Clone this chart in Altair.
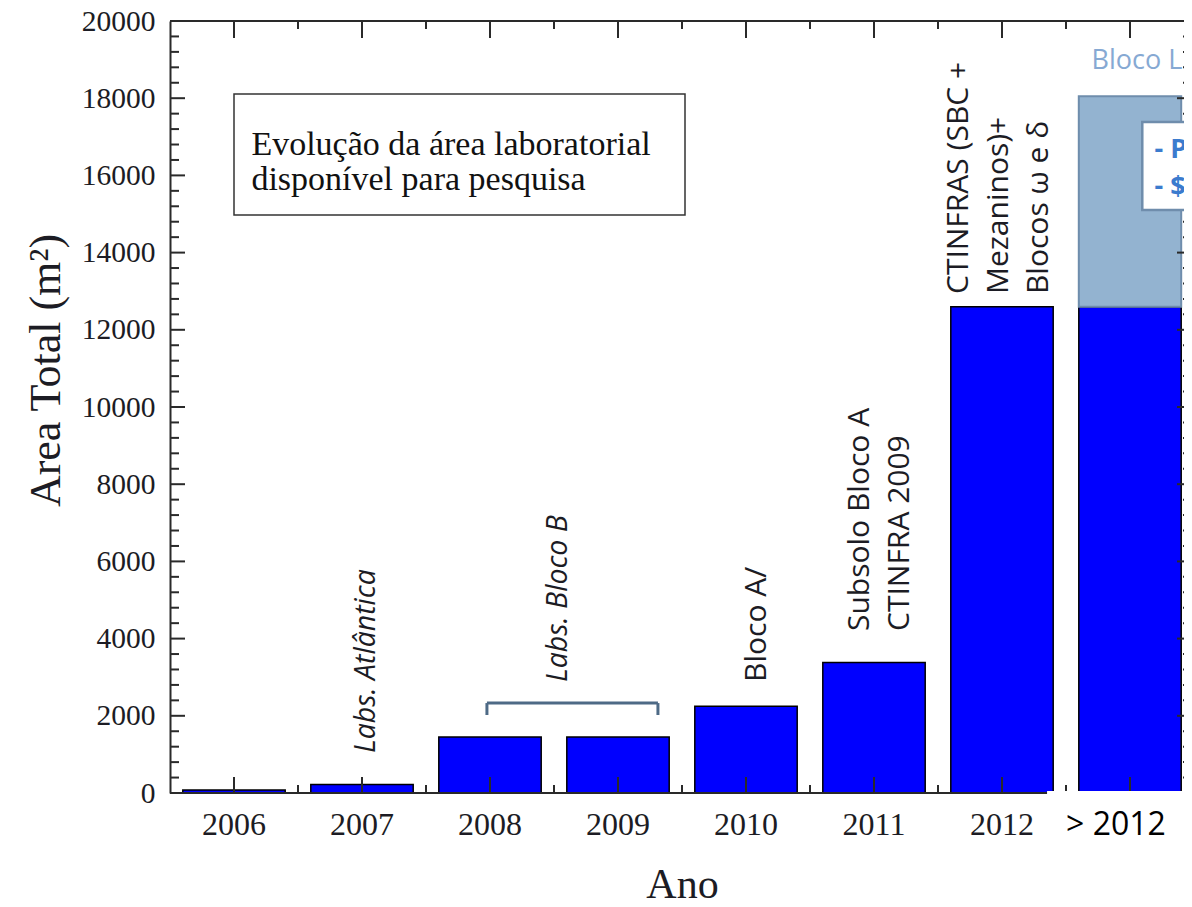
import altair as alt
import pandas as pd

# ---------------- data ----------------
anos = ["2006", "2007", "2008", "2009", "2010", "2011", "2012", "> 2012"]
area_total = [80, 220, 1450, 1450, 2250, 3380, 12600, 12600]

futuro_ano = ["> 2012"]
futuro_base = [12600]
futuro_topo = [18050]

y_major = list(range(0, 20001, 2000))
y_minor = [v for v in range(0, 20001, 400) if v % 2000]

titulo_linhas = ["Evolução da área laboratorial", "disponível para pesquisa"]
legenda_linhas = ["- P", "- $"]

# rotated annotations: category, y where the text starts, lines, italic, screen x-shift
anot_ano = ["2007", "2009", "2010", "2011", "2012"]
anot_y = [1036, 2876, 2876, 4197, 12927]
anot_txt = [["Labs. Atlântica"], ["Labs. Bloco B"], ["Bloco A/"],
            ["Subsolo Bloco A", "CTINFRA 2009"],
            ["CTINFRAS (SBC +", "Mezaninos)+", "Blocos ω e δ"]]
anot_italic = [True, True, False, False, False]
anot_shift = [4, -60, 11, -14, -43]

# ---------------- layout ----------------
W, H = 1014, 772
BLUE = "#0000FF"
INK = "#1c1c24"

x_scale = alt.Scale(domain=anos, range=[0, 1024], paddingInner=0.2, paddingOuter=0.1)
y_scale = alt.Scale(domain=[0, 20000], nice=False, zero=True)

cond = "datum.value === '> 2012'"
x_axis = alt.Axis(
    title="Ano", titleFont="Liberation Serif", titleFontSize=42, titleFontWeight="normal",
    titleColor=INK, titleBaseline="alphabetic", titleY=104,
    labelFont={"condition": {"test": cond, "value": "Open Sans"}, "value": "Liberation Serif"},
    labelFontSize={"condition": {"test": cond, "value": 32}, "value": 32},
    labelColor={"condition": {"test": cond, "value": "#000000"}, "value": INK},
    labelOffset={"condition": {"test": cond, "value": -14}, "value": 0},
    labelAngle=0, labelPadding=16, labelBaseline="top", ticks=False, tickSize=0,
    domain=False, grid=False, zindex=1,
)
y_axis = alt.Axis(
    values=y_major, format="d", title="Area Total (m²)", titleFont="Liberation Serif",
    titleFontSize=44, titleFontWeight="normal", titleColor=INK, titleAngle=270,
    titleX=-124, titleY=349, titleBaseline="middle", titleAlign="center",
    labelFont="Liberation Serif", labelFontSize=29.5, labelColor=INK, labelPadding=15,
    ticks=False, tickSize=0, domain=True, domainColor="#2a2a2a", domainWidth=2,
    grid=False, labelOverlap=False,
)


def X(field, bp=0.5):
    return alt.X(field, scale=x_scale, bandPosition=bp)


def Y(field):
    return alt.Y(field, type="quantitative", scale=y_scale)


bars_df = pd.DataFrame({"ano": anos, "area": area_total})
fut_df = pd.DataFrame({"ano": futuro_ano, "base": futuro_base, "topo": futuro_topo})

bars = alt.Chart(bars_df).mark_bar(color=BLUE, stroke="black", strokeWidth=1.5).encode(
    x=alt.X("ano:N", scale=x_scale, axis=x_axis),
    y=alt.Y("area:Q", scale=y_scale, axis=y_axis),
)
fut = alt.Chart(fut_df).mark_bar(color="#93B3D0", stroke="#6F8DAC", strokeWidth=2).encode(
    x=alt.X("ano:N", scale=x_scale), y=Y("base"), y2="topo"
)

# frame (top and bottom; left is the y-axis domain)
frame_df = pd.DataFrame({"v": [0, 20000]})
frame = alt.Chart(frame_df).mark_rule(color="#2a2a2a", strokeWidth=2).encode(y=Y("v"))

# inward ticks
tick_style = dict(color="#2a2a2a", strokeWidth=2)
ymaj_df = pd.DataFrame({"v": y_major})
ymin_df = pd.DataFrame({"v": y_minor})
left_maj = alt.Chart(ymaj_df).mark_rule(**tick_style).encode(y=Y("v"), x=alt.value(1), x2=alt.value(15))
left_min = alt.Chart(ymin_df).mark_rule(**tick_style).encode(y=Y("v"), x=alt.value(1), x2=alt.value(9))
right_maj = alt.Chart(ymaj_df).mark_rule(**tick_style).encode(y=Y("v"), x=alt.value(1024), x2=alt.value(1007))
right_min = alt.Chart(ymin_df).mark_rule(**tick_style).encode(y=Y("v"), x=alt.value(1024), x2=alt.value(1013))

# bottom / top ticks: from the frame value to a short distance inside (in data units)
bot_c = pd.DataFrame({"ano": anos, "v": 0, "v2": 415})
bot_b = pd.DataFrame({"ano": anos[:-1], "v": 0, "v2": 207})
top_c = pd.DataFrame({"ano": anos, "v": 20000, "v2": 19560})
top_b = pd.DataFrame({"ano": anos[:-1], "v": 20000, "v2": 19793})


def hv_ticks(df, bp, xoff):
    return alt.Chart(df).mark_rule(xOffset=xoff, **tick_style).encode(
        x=X("ano:N", bp), y=Y("v"), y2="v2")


bot_maj = hv_ticks(bot_c, 0.5, 0)
bot_min = hv_ticks(bot_b, 1, 12.8)
top_maj = hv_ticks(top_c, 0.5, 0)
top_min = hv_ticks(top_b, 1, 12.8)

# bracket over 2008-2009
br_col = "#4E6A86"
br_h_df = pd.DataFrame({"a": ["2008"], "b": ["2009"], "y": [2330]})
br_h = alt.Chart(br_h_df).mark_rule(color=br_col, strokeWidth=3).encode(
    x=X("a:N", 0.47), x2=alt.X2("b", bandPosition=0.89), y=Y("y"))
br_v_df = pd.DataFrame({"a": ["2008"], "b": ["2009"], "y": [2330], "y2": [2020]})
br_l = alt.Chart(br_v_df).mark_rule(color=br_col, strokeWidth=3).encode(x=X("a:N", 0.47), y=Y("y"), y2="y2")
br_r = alt.Chart(br_v_df).mark_rule(color=br_col, strokeWidth=3).encode(x=X("b:N", 0.89), y=Y("y"), y2="y2")

# rotated annotations
anots = []
for a, yv, t, it, sh in zip(anot_ano, anot_y, anot_txt, anot_italic, anot_shift):
    df = pd.DataFrame({"ano": [a], "y": [yv], "t": [t]})
    anots.append(
        alt.Chart(df).mark_text(
            angle=270, align="left", baseline="middle", font="Open Sans",
            fontSize=28.5 if it else 30, fontStyle="italic" if it else "normal",
            dy=sh, lineHeight=40, color=INK,
        ).encode(x=X("ano:N", 0.5), y=Y("y"), text="t:N")
    )

# title box
tbox_df = pd.DataFrame({"a": ["2006"], "b": ["2010"], "y": [18109], "y2": [14974]})
tbox = alt.Chart(tbox_df).mark_rect(fill="white", stroke="#333333", strokeWidth=1.5, x2Offset=-9.8).encode(
    x=X("a:N", 0.5), x2=alt.X2("b", bandPosition=0), y=Y("y"), y2="y2")
ttext_df = pd.DataFrame({"a": ["2006"], "y": [16528], "t": [titulo_linhas]})
ttext = alt.Chart(ttext_df).mark_text(
    align="left", baseline="alphabetic", font="Liberation Serif", fontSize=34, lineHeight=35, color="#111111"
).encode(x=X("a:N", 0.67), y=Y("y"), text="t:N")

# Bloco L
bl_df = pd.DataFrame({"a": ["> 2012"], "y": [18964], "t": ["Bloco L"]})
bl = alt.Chart(bl_df).mark_text(
    align="center", baseline="middle", font="Open Sans", fontSize=27, color="#86A9D3", dx=7
).encode(x=X("a:N", 0.5), y=Y("y"), text="t:N")

# legend-like box on > 2012
lbox_df = pd.DataFrame({"a": ["> 2012"], "y": [17383], "y2": [15104]})
lbox = alt.Chart(lbox_df).mark_rect(fill="white", stroke="#6F8DAC", strokeWidth=2.5, x2Offset=40).encode(
    x=X("a:N", 0.62), x2=alt.X2("a", bandPosition=1), y=Y("y"), y2="y2")
ltext_df = pd.DataFrame({"a": ["> 2012"], "y": [16450], "t": [legenda_linhas]})
ltext = alt.Chart(ltext_df).mark_text(
    align="left", baseline="alphabetic", font="Open Sans", fontSize=27, fontWeight="bold",
    lineHeight=37, color="#3B7BCE"
).encode(x=X("a:N", 0.74), y=Y("y"), text="t:N")

# white patch under the "> 2012" column (as in the reference)
mask_df = pd.DataFrame({"a": ["2012"], "b": ["> 2012"], "y": [52], "y2": [-3000]})
mask = alt.Chart(mask_df).mark_rect(fill="white", strokeWidth=0, x2Offset=60).encode(
    x=X("a:N", 0.94), x2=alt.X2("b", bandPosition=1), y=Y("y"), y2="y2")

chart = alt.layer(
    bars, fut, frame, br_h, br_l, br_r, *anots, tbox, ttext, bl,
    left_maj, left_min, right_maj, right_min, bot_maj, bot_min, top_maj, top_min,
    lbox, ltext, mask,
).properties(
    width=W, height=H,
    autosize=alt.AutoSizeParams(type="none"),
    padding={"left": 162, "top": 13, "right": 0, "bottom": 106},
).configure_view(strokeWidth=0).configure(background="white")

chart.save("out.html", embed_options={"renderer": "svg", "actions": False})
